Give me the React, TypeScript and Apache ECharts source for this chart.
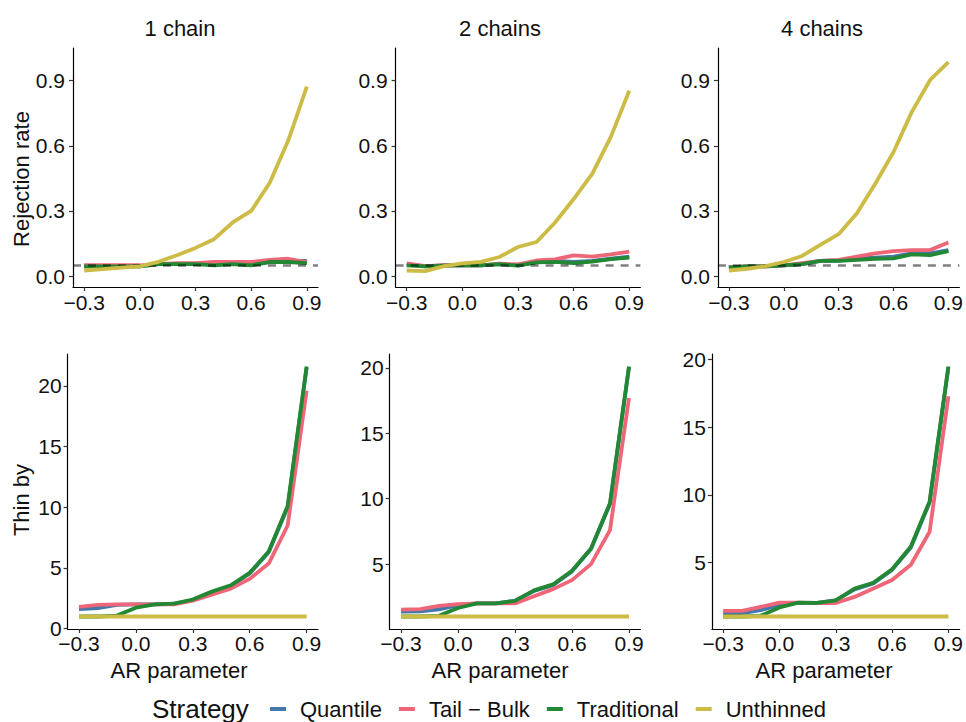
import React, { useEffect, useRef } from "react";
import * as echarts from "echarts";

const AR = [-0.3, -0.2, -0.1, 0.0, 0.1, 0.2, 0.3, 0.4, 0.5, 0.6, 0.7, 0.8, 0.9];
const STRATEGIES = ["Quantile", "Tail \u2212 Bulk", "Traditional", "Unthinned"];
const COLORS = ["#4477AA", "#EE6677", "#228833", "#CCBB44"];
const CHAIN_TITLES = ["1 chain", "2 chains", "4 chains"];

// Rejection rate, 1 chain
const rej1Quantile = [0.045, 0.045, 0.045, 0.045, 0.055, 0.055, 0.055, 0.055, 0.055, 0.055, 0.07, 0.07, 0.07];
const rej1Tail = [0.05, 0.05, 0.05, 0.05, 0.055, 0.06, 0.06, 0.065, 0.065, 0.065, 0.075, 0.08, 0.065];
const rej1Trad = [0.045, 0.045, 0.045, 0.045, 0.055, 0.055, 0.055, 0.05, 0.055, 0.05, 0.065, 0.065, 0.06];
const rej1Unth = [0.026, 0.032, 0.039, 0.045, 0.066, 0.096, 0.13, 0.17, 0.247, 0.3, 0.43, 0.625, 0.872];
// Rejection rate, 2 chains
const rej2Quantile = [0.055, 0.045, 0.05, 0.05, 0.05, 0.055, 0.05, 0.065, 0.07, 0.065, 0.07, 0.08, 0.09];
const rej2Tail = [0.059, 0.046, 0.05, 0.05, 0.05, 0.057, 0.054, 0.072, 0.077, 0.096, 0.09, 0.1, 0.113];
const rej2Trad = [0.05, 0.045, 0.048, 0.05, 0.05, 0.055, 0.048, 0.063, 0.066, 0.06, 0.067, 0.078, 0.085];
const rej2Unth = [0.026, 0.023, 0.046, 0.059, 0.066, 0.088, 0.134, 0.157, 0.247, 0.355, 0.471, 0.64, 0.853];
// Rejection rate, 4 chains
const rej4Quantile = [0.04, 0.045, 0.045, 0.05, 0.055, 0.07, 0.072, 0.08, 0.085, 0.09, 0.105, 0.105, 0.12];
const rej4Tail = [0.04, 0.045, 0.045, 0.05, 0.06, 0.07, 0.075, 0.09, 0.105, 0.115, 0.12, 0.12, 0.155];
const rej4Trad = [0.04, 0.045, 0.045, 0.05, 0.055, 0.07, 0.07, 0.075, 0.08, 0.082, 0.1, 0.097, 0.115];
const rej4Unth = [0.026, 0.034, 0.046, 0.065, 0.093, 0.144, 0.193, 0.289, 0.425, 0.571, 0.756, 0.903, 0.985];

// Thin by, 1 chain
const thin1Quantile = [1.6, 1.7, 1.95, 2.0, 2.0, 2.05, 2.35, 3.0, 3.5, 4.55, 6.3, 10.0, 21.5];
const thin1Tail = [1.8, 1.95, 2.0, 2.0, 2.0, 2.0, 2.3, 2.8, 3.3, 4.1, 5.36, 8.5, 19.6];
const thin1Trad = [1.0, 1.0, 1.08, 1.73, 2.0, 2.06, 2.4, 3.05, 3.57, 4.6, 6.35, 10.1, 21.6];
const thin1Unth = [1, 1, 1, 1, 1, 1, 1, 1, 1, 1, 1, 1, 1];
// Thin by, 2 chains
const thin2Quantile = [1.38, 1.4, 1.55, 1.86, 2.0, 2.0, 2.2, 2.95, 3.4, 4.45, 6.15, 9.6, 20.05];
const thin2Tail = [1.53, 1.56, 1.81, 1.94, 2.0, 2.0, 2.0, 2.55, 3.09, 3.78, 5.0, 7.6, 17.7];
const thin2Trad = [1.0, 1.0, 1.05, 1.65, 2.0, 2.0, 2.2, 3.0, 3.45, 4.5, 6.2, 9.65, 20.1];
const thin2Unth = [1, 1, 1, 1, 1, 1, 1, 1, 1, 1, 1, 1, 1];
// Thin by, 4 chains
const thin4Quantile = [1.22, 1.25, 1.47, 1.84, 2.0, 2.0, 2.2, 3.0, 3.45, 4.45, 6.1, 9.45, 19.45];
const thin4Tail = [1.42, 1.42, 1.71, 2.03, 2.03, 2.0, 2.0, 2.45, 3.07, 3.7, 4.83, 7.27, 17.3];
const thin4Trad = [1.0, 1.0, 1.05, 1.67, 2.03, 2.0, 2.2, 3.07, 3.5, 4.5, 6.18, 9.52, 19.5];
const thin4Unth = [1, 1, 1, 1, 1, 1, 1, 1, 1, 1, 1, 1, 1];

const X_TICKS = [-0.3, 0.0, 0.3, 0.6, 0.9];
const REJ_TICKS = [0.0, 0.3, 0.6, 0.9];
const THIN_TICKS_1 = [0, 5, 10, 15, 20];
const THIN_TICKS_2 = [5, 10, 15, 20];
const THIN_TICKS_4 = [5, 10, 15, 20];
const NOMINAL_LEVEL = 0.05;

const FONT = "'Liberation Sans', Arial, Helvetica, sans-serif";
const INK = "#111111";

function fmtX(v: number) {
  const s = Math.abs(v).toFixed(1);
  return v < -1e-9 ? "\u2212" + s : s;
}

function expandRange(arrs: number[][]) {
  let lo = Infinity;
  let hi = -Infinity;
  arrs.forEach((a) => a.forEach((v) => { lo = Math.min(lo, v); hi = Math.max(hi, v); }));
  const r = hi - lo;
  return [lo - 0.05 * r, hi + 0.05 * r];
}

export default function App() {
  const ref = useRef<HTMLDivElement>(null);

  useEffect(() => {
    if (!ref.current) return;
    const chart = echarts.init(ref.current, null, { renderer: "svg" });

    const panels = [
      { grid: { left: 73, top: 48, width: 245, height: 239 }, series: [rej1Quantile, rej1Tail, rej1Trad, rej1Unth], range: [-0.05, 1.05], ticks: REJ_TICKS, fmt: (v: number) => v.toFixed(1), top: true, ym: 8, xm: 5 },
      { grid: { left: 395.6, top: 48, width: 244.8, height: 239 }, series: [rej2Quantile, rej2Tail, rej2Trad, rej2Unth], range: [-0.05, 1.05], ticks: REJ_TICKS, fmt: (v: number) => v.toFixed(1), top: true, ym: 8, xm: 5 },
      { grid: { left: 717.9, top: 48, width: 244.5, height: 239 }, series: [rej4Quantile, rej4Tail, rej4Trad, rej4Unth], range: [-0.05, 1.05], ticks: REJ_TICKS, fmt: (v: number) => v.toFixed(1), top: true, ym: 8, xm: 5 },
      { grid: { left: 67.6, top: 354, width: 250.4, height: 275 }, series: [thin1Quantile, thin1Tail, thin1Trad, thin1Unth], range: expandRange([thin1Quantile, thin1Tail, thin1Trad, thin1Unth]), ticks: THIN_TICKS_1, fmt: (v: number) => String(Math.round(v)), top: false, ym: 6, xm: 4 },
      { grid: { left: 389.6, top: 354, width: 250.8, height: 275 }, series: [thin2Quantile, thin2Tail, thin2Trad, thin2Unth], range: expandRange([thin2Quantile, thin2Tail, thin2Trad, thin2Unth]), ticks: THIN_TICKS_2, fmt: (v: number) => String(Math.round(v)), top: false, ym: 6, xm: 4 },
      { grid: { left: 711.9, top: 354, width: 250.5, height: 275 }, series: [thin4Quantile, thin4Tail, thin4Trad, thin4Unth], range: expandRange([thin4Quantile, thin4Tail, thin4Trad, thin4Unth]), ticks: THIN_TICKS_4, fmt: (v: number) => String(Math.round(v)), top: false, ym: 6, xm: 4 },
    ];

    const axisLine = { show: true, onZero: false, lineStyle: { color: "#000", width: 1.2 } };
    const axisTick = (vals: number[]) => ({ show: true, length: 4, lineStyle: { color: "#333", width: 1.2 }, customValues: vals });

    const grids = panels.map((p) => ({ ...p.grid, containLabel: false }));
    const xAxes = panels.map((p, i) => ({
      type: "value",
      gridIndex: i,
      min: -0.36,
      max: 0.96,
      axisLine,
      axisTick: axisTick(X_TICKS),
      splitLine: { show: false },
      axisLabel: { customValues: X_TICKS, formatter: fmtX, fontSize: 21, color: INK, fontFamily: FONT, margin: p.xm },
    }));
    const yAxes = panels.map((p, i) => ({
      type: "value",
      gridIndex: i,
      min: p.range[0],
      max: p.range[1],
      axisLine,
      axisTick: axisTick(p.ticks),
      splitLine: { show: false },
      axisLabel: { customValues: p.ticks, formatter: p.fmt, fontSize: 21, color: INK, fontFamily: FONT, margin: p.ym },
    }));

    const series: any[] = [];
    panels.forEach((p, i) => {
      p.series.forEach((vals, k) => {
        const s: any = {
          type: "line",
          name: STRATEGIES[k],
          xAxisIndex: i,
          yAxisIndex: i,
          data: AR.map((x, j) => [x, vals[j]]),
          showSymbol: false,
          symbol: "none",
          lineStyle: { width: 3.8, color: COLORS[k] },
          itemStyle: { color: COLORS[k] },
          z: 2 + k,
          silent: true,
        };
        if (p.top && k === 3) {
          s.markLine = {
            silent: true,
            symbol: ["none", "none"],
            label: { show: false },
            lineStyle: { type: [8, 7], color: "rgba(0,0,0,0.5)", width: 2.6 },
            data: [{ yAxis: NOMINAL_LEVEL }],
          };
        }
        series.push(s);
      });
    });

    const textEl = (text: string, x: number, y: number, size: number, rotation = 0) => ({
      type: "text",
      x,
      y,
      rotation,
      style: { text, fill: INK, font: `${size}px ${FONT}`, textAlign: "center", textVerticalAlign: "middle" },
      silent: true,
    });

    const option: any = {
      animation: false,
      backgroundColor: "#ffffff",
      grid: grids,
      xAxis: xAxes,
      yAxis: yAxes,
      series,
      legend: {
        data: STRATEGIES,
        left: 265,
        top: 692,
        orient: "horizontal",
        icon: "rect",
        itemWidth: 16,
        itemHeight: 4,
        itemGap: 17,
        selectedMode: false,
        textStyle: { fontSize: 22, lineHeight: 24, color: INK, fontFamily: FONT, padding: [0, 0, 0, 9] },
      },
      graphic: [
        textEl(CHAIN_TITLES[0], 180, 28, 22),
        textEl(CHAIN_TITLES[1], 500, 28, 22),
        textEl(CHAIN_TITLES[2], 822, 28, 22),
        textEl("AR parameter", 179, 670, 22),
        textEl("AR parameter", 500, 670, 22),
        textEl("AR parameter", 824, 670, 22),
        textEl("Rejection rate", 21, 179, 22, Math.PI / 2),
        textEl("Thin by", 21, 500, 22, Math.PI / 2),
        {
          type: "text",
          x: 152,
          y: 709,
          style: { text: "Strategy", fill: INK, font: `26px ${FONT}`, textAlign: "left", textVerticalAlign: "middle" },
          silent: true,
        },
      ],
    };

    chart.setOption(option);
    return () => chart.dispose();
  }, []);

  return (
    <div
      ref={ref}
      style={{ position: "fixed", left: 0, top: 0, width: 966, height: 722, background: "#fff" }}
    />
  );
}
